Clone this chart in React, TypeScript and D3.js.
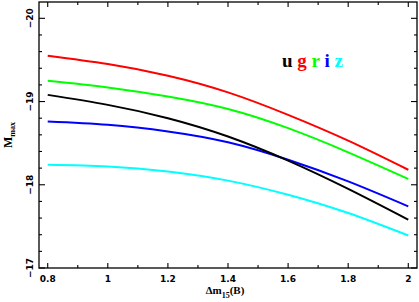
import React, { useEffect, useRef } from 'react';
import { line, curveNatural, range, scaleLinear, select } from 'd3';

// absolute magnitude at peak vs decline rate, one curve per band
const dm15 = [0.8, 1.0, 1.2, 1.4, 1.6, 1.8, 2.0];
const uBand = [-19.08, -18.96, -18.80, -18.58, -18.29, -17.95, -17.58];
const gBand = [-19.55, -19.45, -19.31, -19.11, -18.84, -18.53, -18.18];
const rBand = [-19.25, -19.17, -19.06, -18.91, -18.68, -18.39, -18.07];
const iBand = [-18.76, -18.72, -18.64, -18.51, -18.30, -18.04, -17.74];
const zBand = [-18.24, -18.22, -18.16, -18.05, -17.88, -17.66, -17.39];

const bandNames = ['u', 'g', 'r', 'i', 'z'];
const bandColors = ['#000000', '#ff0000', '#00ff00', '#0000ff', '#00ffff'];
const bandValues = [uBand, gBand, rBand, iBand, zBand];

const xTicks = [0.8, 1, 1.2, 1.4, 1.6, 1.8, 2];
const xTickLabels = ['0.8', '1', '1.2', '1.4', '1.6', '1.8', '2'];
const yTicks = [-20, -19, -18, -17];
const yTickLabels = ['\u221220', '\u221219', '\u221218', '\u221217'];

const W = 419;
const H = 302;
const frame = { left: 39, right: 417, top: 2, bottom: 268 };

const App = () => {
  const ref = useRef<HTMLDivElement>(null);

  useEffect(() => {
    const x = scaleLinear().domain([0.771, 2.029]).range([frame.left, frame.right]);
    const y = scaleLinear().domain([-17, -20.196]).range([frame.bottom, frame.top]);

    const svg = select(ref.current)
      .append('svg')
      .attr('width', W)
      .attr('height', H)
      .style('position', 'absolute')
      .style('left', 0)
      .style('top', 0);

    // curves
    const path = line<number>()
      .x((_, i) => x(dm15[i]))
      .y((d) => y(d))
      .curve(curveNatural);

    // draw order: cyan, blue, green, red, black on top
    [4, 3, 2, 1, 0].forEach((k) => {
      svg.append('path')
        .attr('d', path(bandValues[k]))
        .attr('fill', 'none')
        .attr('stroke', bandColors[k])
        .attr('stroke-width', 2);
    });

    // frame
    svg.append('rect')
      .attr('x', frame.left)
      .attr('y', frame.top)
      .attr('width', frame.right - frame.left)
      .attr('height', frame.bottom - frame.top)
      .attr('fill', 'none')
      .attr('stroke', '#000')
      .attr('stroke-width', 1.3);

    const ticks = svg.append('g').attr('stroke', '#000').attr('stroke-width', 1.1);

    // x ticks (minor every 0.1, major every 0.2), bottom and top, pointing inward
    const xMinor = range(0.8, 2.0001, 0.1);
    xMinor.forEach((v) => {
      const major = xTicks.some((t) => Math.abs(t - v) < 1e-6);
      const len = major ? 5 : 3;
      ticks.append('line')
        .attr('x1', x(v)).attr('x2', x(v))
        .attr('y1', frame.bottom).attr('y2', frame.bottom - len);
      ticks.append('line')
        .attr('x1', x(v)).attr('x2', x(v))
        .attr('y1', frame.top).attr('y2', frame.top + len);
    });

    // y ticks (minor every 0.2, major every 1), left and right
    const yMinor = range(-20, -16.9999, 0.2);
    yMinor.forEach((v) => {
      const major = yTicks.some((t) => Math.abs(t - v) < 1e-6);
      const len = major ? 6 : 3;
      ticks.append('line')
        .attr('x1', frame.left).attr('x2', frame.left + len)
        .attr('y1', y(v)).attr('y2', y(v));
      ticks.append('line')
        .attr('x1', frame.right).attr('x2', frame.right - len)
        .attr('y1', y(v)).attr('y2', y(v));
    });

    // tick labels
    svg.append('g')
      .selectAll('text')
      .data(xTicks)
      .enter()
      .append('text')
      .attr('x', (d) => x(d))
      .attr('y', 282)
      .attr('text-anchor', 'middle')
      .style('font', 'bold 9px "DejaVu Sans"')
      .text((_, i) => xTickLabels[i]);

    svg.append('g')
      .selectAll('text')
      .data(yTicks)
      .enter()
      .append('text')
      .attr('transform', (d) => `translate(33,${y(d)})rotate(-90)`)
      .attr('text-anchor', 'middle')
      .style('font', 'bold 9px "DejaVu Sans"')
      .text((_, i) => yTickLabels[i]);

    // axis titles
    const xTitle = svg.append('text')
      .attr('x', (frame.left + frame.right) / 2 - 3)
      .attr('y', 294)
      .attr('text-anchor', 'middle')
      .style('font', 'bold 11px "Liberation Serif"');
    xTitle.append('tspan').text('\u0394m');
    xTitle.append('tspan').attr('dy', 4).style('font-size', '8px').text('15');
    xTitle.append('tspan').attr('dy', -4).text('(B)');

    const yTitle = svg.append('text')
      .attr('transform', `translate(12,${(frame.top + frame.bottom) / 2})rotate(-90)`)
      .attr('text-anchor', 'middle')
      .style('font', 'bold 12px "Liberation Serif"');
    yTitle.append('tspan').text('M');
    yTitle.append('tspan').attr('dy', 3).style('font-size', '8px').text('max');

    // legend
    const legend = svg.append('text')
      .attr('x', 282)
      .attr('y', 66.5)
      .style('font', 'bold 19px "Liberation Serif"');
    bandNames.forEach((name, i) => {
      legend.append('tspan')
        .attr('fill', bandColors[i])
        .text(i < bandNames.length - 1 ? `${name} ` : name);
    });

    return () => { svg.remove(); };
  }, []);

  return <div ref={ref} />;
};

export default App;
